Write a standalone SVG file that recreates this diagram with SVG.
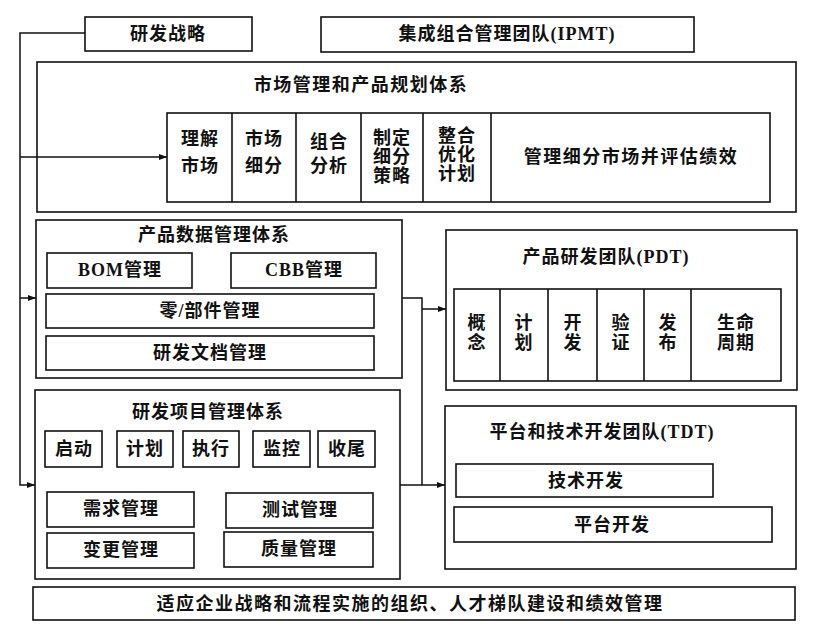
<svg xmlns="http://www.w3.org/2000/svg" width="813" height="630" viewBox="0 0 813 630">
<defs>
<marker id="ah" markerWidth="8" markerHeight="6" refX="8" refY="3" orient="auto" markerUnits="userSpaceOnUse">
<path d="M0,0 L8,3 L0,6 Z" fill="#111"/>
</marker>
<style>
rect{fill:#fff;stroke:#111;stroke-width:1.6}
.d{stroke:#111;stroke-width:1.6;fill:none}
text{font-family:"Liberation Serif","Noto Sans CJK SC",serif;font-weight:bold;font-size:18px;fill:#111;text-anchor:middle;dominant-baseline:central;letter-spacing:1px}
.w{letter-spacing:1.5px}
.c{stroke:#111;stroke-width:1.5;fill:none}
</style>
</defs>
<rect x="0" y="0" width="813" height="630" style="fill:#fff;stroke:none"/>
<g id="rd-strategy"><rect x="85" y="17" width="167" height="34"/><text x="168" y="34">研发战略</text></g>
<g id="ipmt"><rect x="321" y="17" width="373" height="35"/><text x="507" y="34">集成组合管理团队(IPMT)</text></g>
<g id="market">
<rect x="37" y="62" width="759" height="150"/>
<text x="361" y="85" class="w">市场管理和产品规划体系</text>
<rect x="167" y="113" width="603" height="89"/>
<path class="d" d="M232,113V202M296,113V202M361,113V202M423,113V202M491,113V202"/>
<text x="200" y="139">理解</text><text x="200" y="166">市场</text>
<text x="264" y="139">市场</text><text x="264" y="166">细分</text>
<text x="329" y="142">组合</text><text x="329" y="166">分析</text>
<text x="392" y="138">制定</text><text x="392" y="157">细分</text><text x="392" y="176">策略</text>
<text x="457" y="136">整合</text><text x="457" y="155">优化</text><text x="457" y="174">计划</text>
<text x="631" y="157" class="w">管理细分市场并评估绩效</text>
</g>
<g id="pdm">
<rect x="36" y="220" width="366" height="158"/>
<text x="214" y="235">产品数据管理体系</text>
<rect x="47" y="253" width="145" height="35"/><text x="120" y="270">BOM管理</text>
<rect x="231" y="253" width="145" height="35"/><text x="304" y="270">CBB管理</text>
<rect x="46" y="294" width="328" height="34"/><text x="210" y="311">零/部件管理</text>
<rect x="46" y="336" width="328" height="34"/><text x="210" y="353">研发文档管理</text>
</g>
<g id="rdpm">
<rect x="35" y="390" width="365" height="189"/>
<text x="208" y="412">研发项目管理体系</text>
<rect x="45" y="431" width="57" height="36"/><text x="74" y="449">启动</text>
<rect x="117" y="431" width="56" height="36"/><text x="145" y="449">计划</text>
<rect x="183" y="431" width="56" height="36"/><text x="211" y="449">执行</text>
<rect x="253" y="431" width="57" height="36"/><text x="282" y="449">监控</text>
<rect x="318" y="431" width="57" height="36"/><text x="347" y="449">收尾</text>
<rect x="47" y="492" width="147" height="35"/><text x="121" y="509">需求管理</text>
<rect x="47" y="533" width="147" height="35"/><text x="121" y="550">变更管理</text>
<rect x="226" y="493" width="147" height="35"/><text x="300" y="510">测试管理</text>
<rect x="224" y="532" width="149" height="35"/><text x="299" y="549">质量管理</text>
</g>
<g id="pdt">
<rect x="446" y="230" width="351" height="160"/>
<text x="606" y="257">产品研发团队(PDT)</text>
<rect x="454" y="289" width="327" height="92"/>
<path class="d" d="M500,289V381M548,289V381M597,289V381M644,289V381M691,289V381"/>
<text x="477" y="323">概</text><text x="477" y="343">念</text>
<text x="524" y="323">计</text><text x="524" y="343">划</text>
<text x="573" y="323">开</text><text x="573" y="343">发</text>
<text x="621" y="323">验</text><text x="621" y="343">证</text>
<text x="668" y="323">发</text><text x="668" y="343">布</text>
<text x="736" y="323">生命</text><text x="736" y="343">周期</text>
</g>
<g id="tdt">
<rect x="445" y="406" width="351" height="163"/>
<text x="602" y="432">平台和技术开发团队(TDT)</text>
<rect x="456" y="464" width="257" height="33"/><text x="586" y="481">技术开发</text>
<rect x="454" y="507" width="318" height="35"/><text x="612" y="525">平台开发</text>
</g>
<g id="org">
<rect x="33" y="587" width="762" height="33"/>
<text x="410" y="604" class="w">适应企业战略和流程实施的组织、人才梯队建设和绩效管理</text>
</g>
<g id="connectors">
<path class="c" d="M85,33H20V485H35" marker-end="url(#ah)"/>
<path class="c" d="M20,157H167" marker-end="url(#ah)"/>
<path class="c" d="M20,298H36" marker-end="url(#ah)"/>
<path class="c" d="M402,298H422V485"/>
<path class="c" d="M422,309H446" marker-end="url(#ah)"/>
<path class="c" d="M400,485H445" marker-end="url(#ah)"/>
</g>
</svg>
